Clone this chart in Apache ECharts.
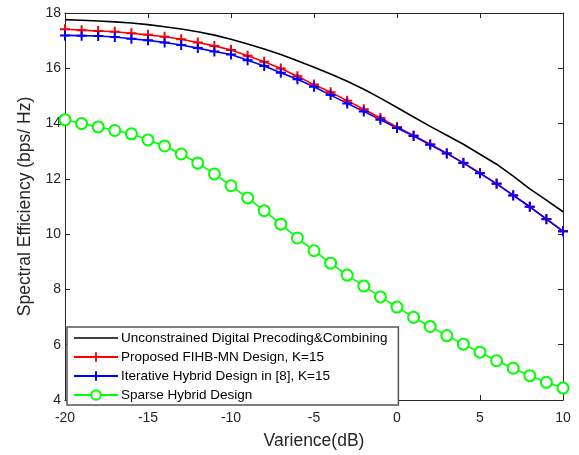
<!DOCTYPE html>
<html>
<head>
<meta charset="utf-8">
<script src="https://cdn.jsdelivr.net/npm/echarts@6/dist/echarts.min.js"></script>
<style>
html,body{margin:0;padding:0;background:#fff;}
#c{width:579px;height:455px;}
</style>
</head>
<body>
<div id="c"></div>
<script>
const xValues = [-20,-19,-18,-17,-16,-15,-14,-13,-12,-11,-10,-9,-8,-7,-6,-5,-4,-3,-2,-1,0,1,2,3,4,5,6,7,8,9,10];
const unconstrained = [17.76,17.74,17.71,17.68,17.64,17.58,17.50,17.42,17.32,17.20,17.05,16.88,16.70,16.50,16.27,16.04,15.79,15.53,15.24,14.92,14.58,14.24,13.90,13.58,13.25,12.89,12.53,12.10,11.64,11.23,10.81];
const proposed = [17.41,17.38,17.35,17.32,17.27,17.21,17.14,17.05,16.93,16.81,16.66,16.45,16.24,15.99,15.71,15.41,15.13,14.83,14.52,14.20,13.88,13.57,13.25,12.93,12.58,12.21,11.83,11.41,10.99,10.55,10.11];
const iterative = [17.19,17.18,17.17,17.13,17.07,17.01,16.93,16.84,16.73,16.61,16.50,16.29,16.08,15.84,15.60,15.33,15.03,14.73,14.44,14.14,13.84,13.55,13.23,12.92,12.57,12.20,11.82,11.40,10.99,10.54,10.10];
const sparse = [14.14,14.00,13.88,13.75,13.63,13.41,13.19,12.90,12.57,12.18,11.75,11.31,10.85,10.36,9.86,9.40,8.95,8.52,8.12,7.73,7.36,6.99,6.66,6.33,6.02,5.73,5.42,5.15,4.88,4.64,4.43];
const seriesNames = ['Unconstrained Digital Precoding&Combining','Proposed FIHB-MN Design, K=15','Iterative Hybrid Design in [8], K=15','Sparse Hybrid Design'];
const xName = 'Varience(dB)';
const yName = 'Spectral Efficiency (bps/ Hz)';

const pairs = arr => xValues.map((x, i) => [x, arr[i]]);
const plus = 'path://M4,0 h2 v10 h-2 z M0,4 h10 v2 h-10 z';
const axisColor = '#262626';
const font = 'Liberation Sans, Arial, Helvetica, sans-serif';

const axisLine = {show: true, onZero: false, lineStyle: {color: axisColor, width: 1}};
const axisTick = {show: true, inside: true, length: 5, lineStyle: {color: axisColor}};

const chart = echarts.init(document.getElementById('c'));
chart.setOption({
  animation: false,
  backgroundColor: '#fff',
  grid: {left: 65, right: 16, top: 13, bottom: 49},
  legend: {
    orient: 'vertical',
    left: 67, top: 327,
    padding: [4, 11, 3, 6],
    itemWidth: 44, itemHeight: 12, itemGap: 5,
    backgroundColor: '#fff',
    borderColor: '#555',
    borderWidth: 1.5,
    borderRadius: 0,
    textStyle: {fontFamily: font, fontSize: 13.5, color: '#000', padding: [0,0,0,-2]},
    data: [
      {name: seriesNames[0], itemStyle: {color: 'rgba(0,0,0,0)', borderColor: 'rgba(0,0,0,0)', borderWidth: 0}, lineStyle: {color: '#000', width: 1.6}},
      seriesNames[1], seriesNames[2], seriesNames[3]
    ]
  },
  xAxis: [{
    type: 'value', min: -20, max: 10, interval: 5,
    name: xName, nameLocation: 'middle', nameGap: 32,
    nameTextStyle: {fontFamily: font, fontSize: 17.5, color: axisColor},
    axisLine: axisLine, axisTick: axisTick,
    axisLabel: {fontFamily: font, fontSize: 14, color: axisColor, margin: 11},
    splitLine: {show: false}
  }, {
    type: 'value', min: -20, max: 10, interval: 5, position: 'top',
    axisLine: axisLine, axisTick: axisTick,
    axisLabel: {show: false}, splitLine: {show: false}
  }],
  yAxis: [{
    type: 'value', min: 4, max: 18, interval: 2,
    name: yName, nameLocation: 'middle', nameGap: 29,
    nameTextStyle: {fontFamily: font, fontSize: 17.5, color: axisColor},
    axisLine: axisLine, axisTick: axisTick,
    axisLabel: {fontFamily: font, fontSize: 14, color: axisColor, margin: 4},
    splitLine: {show: false}
  }, {
    type: 'value', min: 4, max: 18, interval: 2, position: 'right',
    axisLine: axisLine, axisTick: axisTick,
    axisLabel: {show: false}, splitLine: {show: false}
  }],
  series: [{
    name: seriesNames[0], type: 'line', data: pairs(unconstrained),
    showSymbol: false, symbol: 'circle', symbolSize: 0,
    lineStyle: {color: '#000', width: 1.6}, itemStyle: {color: '#000'}
  }, {
    name: seriesNames[1], type: 'line', data: pairs(proposed),
    symbol: plus, symbolSize: 10,
    lineStyle: {color: '#ff0000', width: 1.6}, itemStyle: {color: '#ff0000'}
  }, {
    name: seriesNames[2], type: 'line', data: pairs(iterative),
    symbol: plus, symbolSize: 10,
    lineStyle: {color: '#0000ff', width: 1.6}, itemStyle: {color: '#0000ff'}
  }, {
    name: seriesNames[3], type: 'line', data: pairs(sparse),
    symbol: 'emptyCircle', symbolSize: 11,
    lineStyle: {color: '#00ff00', width: 1.6},
    itemStyle: {color: '#00ff00', borderColor: '#00ff00', borderWidth: 1.6}
  }]
});
</script>
</body>
</html>
